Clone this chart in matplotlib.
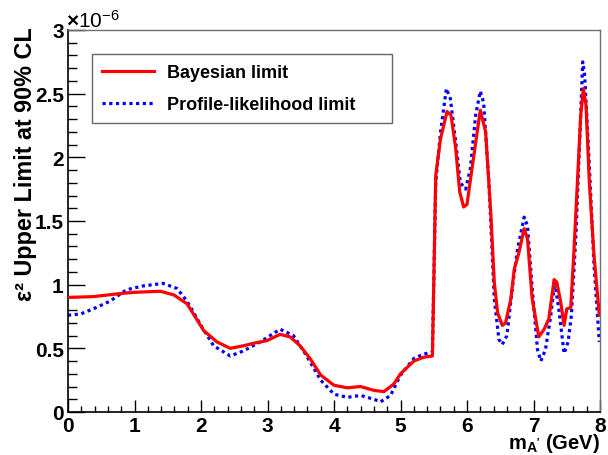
import matplotlib
matplotlib.use("Agg")
import matplotlib.pyplot as plt
from matplotlib.ticker import MultipleLocator, FuncFormatter

# ---- data (y values in units of 1e-6) ----
bayes_x = [0, 0.38, 0.78, 1.0, 1.39, 1.59, 1.79, 2.04, 2.24, 2.44,
           2.64, 2.79, 2.99, 3.19, 3.34, 3.49, 3.64, 3.80, 4.0, 4.2,
           4.4, 4.6, 4.75, 4.9, 5.0, 5.2, 5.35, 5.48, 5.53, 5.60,
           5.70, 5.76, 5.83, 5.89, 5.95, 6.0, 6.08, 6.20, 6.28, 6.36,
           6.41, 6.46, 6.53, 6.58, 6.66, 6.71, 6.78, 6.86, 6.91, 6.98,
           7.08, 7.16, 7.23, 7.31, 7.35, 7.41, 7.46, 7.50, 7.56, 7.61,
           7.66, 7.71, 7.75, 7.79, 7.84, 7.91, 7.99]
bayes_y = [0.90, 0.906, 0.93, 0.94, 0.948, 0.92, 0.85, 0.64, 0.55, 0.50,
           0.52, 0.54, 0.56, 0.61, 0.59, 0.52, 0.42, 0.29, 0.21, 0.19,
           0.20, 0.17, 0.16, 0.22, 0.30, 0.40, 0.43, 0.44, 1.86, 2.14,
           2.36, 2.33, 2.07, 1.73, 1.61, 1.63, 1.93, 2.37, 2.20, 1.54,
           1.02, 0.78, 0.68, 0.70, 0.89, 1.12, 1.25, 1.44, 1.36, 0.89,
           0.59, 0.65, 0.73, 1.04, 1.02, 0.86, 0.68, 0.81, 0.82, 1.28,
           1.80, 2.33, 2.54, 2.41, 1.80, 1.23, 0.76]

prof_x = [0, 0.19, 0.38, 0.63, 0.88, 1.13, 1.43, 1.64, 1.79, 2.0,
          2.19, 2.44, 2.64, 2.89, 3.19, 3.39, 3.59, 3.8, 4.0, 4.2,
          4.4, 4.6, 4.7, 4.85, 5.0, 5.2, 5.35, 5.48, 5.53, 5.60,
          5.69, 5.75, 5.83, 5.90, 5.98, 6.05, 6.13, 6.20, 6.25, 6.33,
          6.41, 6.48, 6.53, 6.60, 6.68, 6.76, 6.86, 6.91, 6.98, 7.06,
          7.11, 7.18, 7.26, 7.32, 7.38, 7.46, 7.52, 7.57, 7.64, 7.69,
          7.74, 7.77, 7.84, 7.91, 7.99]
prof_y = [0.76, 0.77, 0.81, 0.87, 0.96, 0.99, 1.01, 0.97, 0.87, 0.68,
          0.52, 0.44, 0.48, 0.55, 0.65, 0.60, 0.44, 0.25, 0.14, 0.115,
          0.13, 0.10, 0.08, 0.13, 0.29, 0.42, 0.455, 0.47, 1.80, 2.19,
          2.54, 2.46, 2.12, 1.80, 1.75, 1.91, 2.33, 2.52, 2.43, 1.80,
          0.89, 0.57, 0.53, 0.60, 0.97, 1.28, 1.53, 1.46, 0.97, 0.49,
          0.40, 0.49, 0.76, 1.02, 0.81, 0.46, 0.55, 0.76, 1.41, 2.07,
          2.75, 2.64, 1.93, 1.15, 0.55]

labels = ["Bayesian limit", "Profile-likelihood limit"]

plt.rcParams['font.family'] = ['Liberation Sans', 'DejaVu Sans']
plt.rcParams['font.weight'] = 'bold'
plt.rcParams['mathtext.fontset'] = 'custom'
plt.rcParams['mathtext.rm'] = 'Liberation Sans:bold'
plt.rcParams['mathtext.bf'] = 'Liberation Sans:bold'
plt.rcParams['mathtext.it'] = 'Liberation Sans:bold'

fig = plt.figure(figsize=(6.08, 4.56), dpi=100)
ax = fig.add_axes([68/608, 1-413/456, (600-68)/608, (413-31)/456])

ax.plot(bayes_x, bayes_y, color='#ff0000', lw=2.3, label=labels[0], zorder=3)
ax.plot(prof_x, prof_y, color='#0000ff', lw=2.3, linestyle=(0, (1, 1.1)),
        label=labels[1], zorder=2)

ax.set_xlim(0, 8)
ax.set_ylim(0, 3)

ax.xaxis.set_major_locator(MultipleLocator(1))
ax.xaxis.set_minor_locator(MultipleLocator(0.2))
ax.yaxis.set_major_locator(MultipleLocator(0.5))
ax.yaxis.set_minor_locator(MultipleLocator(0.1))
fmt = FuncFormatter(lambda v, p: "%g" % v)
ax.xaxis.set_major_formatter(fmt)
ax.yaxis.set_major_formatter(fmt)

ax.tick_params(axis='both', which='both', direction='in', top=False, right=False,
               color='black', width=1.0)
ax.tick_params(axis='y', which='major', length=12, pad=3, labelsize=15)
ax.tick_params(axis='y', which='minor', length=6.5)
ax.tick_params(axis='x', which='major', length=8.6, pad=3, labelsize=15)
ax.tick_params(axis='x', which='minor', length=4.3)
for lab in ax.get_xticklabels() + ax.get_yticklabels():
    lab.set_fontweight('bold')

for s in ['left', 'bottom']:
    ax.spines[s].set_color('black')
    ax.spines[s].set_linewidth(1.2)
for s in ['top', 'right']:
    ax.spines[s].set_color('#707070')
    ax.spines[s].set_linewidth(1.0)

leg = ax.legend(loc='upper left', bbox_to_anchor=(0.045, 0.762, 0.564, 0.175),
                mode='expand', borderaxespad=0, fancybox=False, frameon=True,
                prop={'size': 13, 'weight': 'bold'}, handlelength=2.9,
                handletextpad=0.7, labelspacing=0.85, borderpad=0.55)
leg.get_frame().set_edgecolor('#404040')
leg.get_frame().set_linewidth(1.0)

fig.text(26/608, 1-27/456, "ε² Upper Limit at 90% CL", rotation=90,
         ha='center', va='top', fontsize=16.8, fontweight='bold')
fig.text(600/608, 7/456, r"m$_{\mathbf{A'}}$ (GeV)", ha='right', va='baseline',
         fontsize=14.5, fontweight='bold')
fig.text(66/608, 1-28/456, r"$\times$10$^{\mathregular{-6}}$", ha='left', va='baseline',
         fontsize=15, fontweight='normal')

fig.savefig("out.png", dpi=100)
